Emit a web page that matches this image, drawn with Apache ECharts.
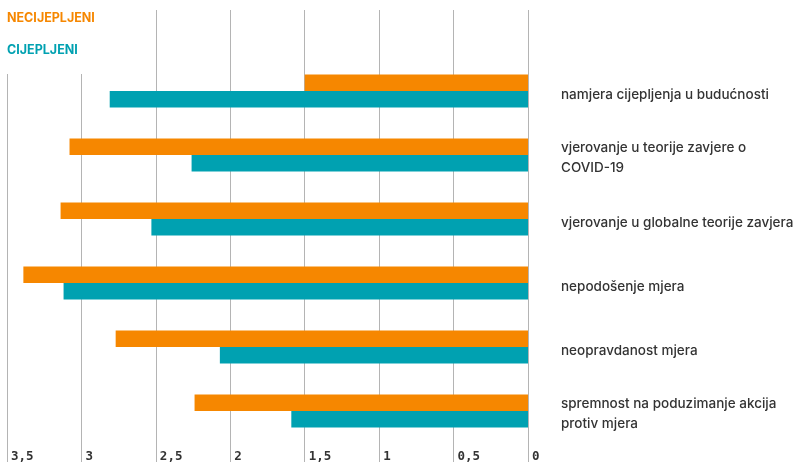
<!DOCTYPE html>
<html>
<head>
<meta charset="utf-8">
<script src="https://cdn.jsdelivr.net/npm/echarts@6/dist/echarts.min.js"></script>
<style>
html,body{margin:0;padding:0;background:#fff;}
#chart{width:800px;height:462px;}
</style>
</head>
<body>
<div id="chart"></div>
<script>
var categories = [
  'namjera cijepljenja u budućnosti',
  'vjerovanje u teorije zavjere o\nCOVID-19',
  'vjerovanje u globalne teorije zavjera',
  'nepodošenje mjera',
  'neopravdanost mjera',
  'spremnost na poduzimanje akcija\nprotiv mjera'
];
var seriesNames = ['NECIJEPLJENI', 'CIJEPLJENI'];
var necijepljeni = [1.50, 3.08, 3.14, 3.39, 2.77, 2.24];
var cijepljeni = [2.81, 2.26, 2.53, 3.12, 2.07, 1.59];
var axisMin = 0, axisMax = 3.5, axisStep = 0.5;

var ORANGE = '#F68700', TEAL = '#00A1B1';
var labelFont = {fontFamily: 'Inter', fontSize: 13.5, fontWeight: 500, color: '#333', lineHeight: 20};
var chart = echarts.init(document.getElementById('chart'));
chart.setOption({
  animation: false,
  backgroundColor: '#fff',
  legend: {
    orient: 'vertical',
    left: 0, top: 0,
    padding: [11, 8, 17, 2],
    backgroundColor: '#fff',
    itemWidth: 0, itemHeight: 14, itemGap: 18,
    icon: 'rect',
    selectedMode: false,
    z: 10,
    data: [
      {name: seriesNames[0], textStyle: {color: ORANGE}},
      {name: seriesNames[1], textStyle: {color: TEAL}}
    ],
    textStyle: {fontFamily: 'Inter', fontSize: 12.5, fontWeight: 'bold'}
  },
  grid: [
    {left: 7, right: 272, top: 59, bottom: 19, containLabel: false, outerBoundsMode: 'none'},
    {left: 7, right: 272, top: 10, bottom: 0, containLabel: false, outerBoundsMode: 'none'}
  ],
  xAxis: [
    {
      gridIndex: 0, type: 'value', min: axisMin, max: axisMax, interval: axisStep, inverse: true,
      axisLine: {show: false}, axisTick: {show: false}, axisLabel: {show: false}, splitLine: {show: false}
    },
    {
      gridIndex: 1, type: 'value', min: axisMin, max: axisMax, interval: axisStep, inverse: true,
      position: 'bottom',
      axisLine: {show: false}, axisTick: {show: false},
      splitLine: {show: true, lineStyle: {color: '#b4b4b4', width: 1}},
      axisLabel: {
        inside: true, margin: -1, align: 'left', padding: [0, 0, 0, 4],
        color: '#333', fontFamily: 'DejaVu Sans Mono', fontWeight: 'bold', fontSize: 12.5,
        formatter: function (v) { return String(v).replace('.', ','); }
      }
    }
  ],
  yAxis: [
    {
      gridIndex: 0, type: 'category', data: categories, inverse: true, position: 'right',
      axisLine: {show: false}, axisTick: {show: false}, splitLine: {show: false},
      axisLabel: Object.assign({
        margin: 33, align: 'left',
        formatter: function (v) {
          var lines = v.split('\n');
          var sp = lines.length > 1 ? 's2' : 's1';
          return '{' + sp + '| }\n' + lines.map(function (s) {
            return '{n|' + s + '}';
          }).join('\n');
        },
        rich: {
          s1: {fontSize: 1, lineHeight: 8},
          s2: {fontSize: 1, lineHeight: 6},
          n: Object.assign({}, labelFont)
        }
      }, labelFont)
    },
    {
      gridIndex: 1, type: 'value', min: 0, max: 1, show: false
    }
  ],
  series: [
    {
      name: seriesNames[0], type: 'bar', xAxisIndex: 0, yAxisIndex: 0,
      data: necijepljeni, barWidth: 16.5, barGap: '0%',
      itemStyle: {color: ORANGE}, z: 3
    },
    {
      name: seriesNames[1], type: 'bar', xAxisIndex: 0, yAxisIndex: 0,
      data: cijepljeni, barWidth: 16.5, barGap: '0%',
      itemStyle: {color: TEAL}, z: 3
    }
  ]
});
</script>
</body>
</html>
